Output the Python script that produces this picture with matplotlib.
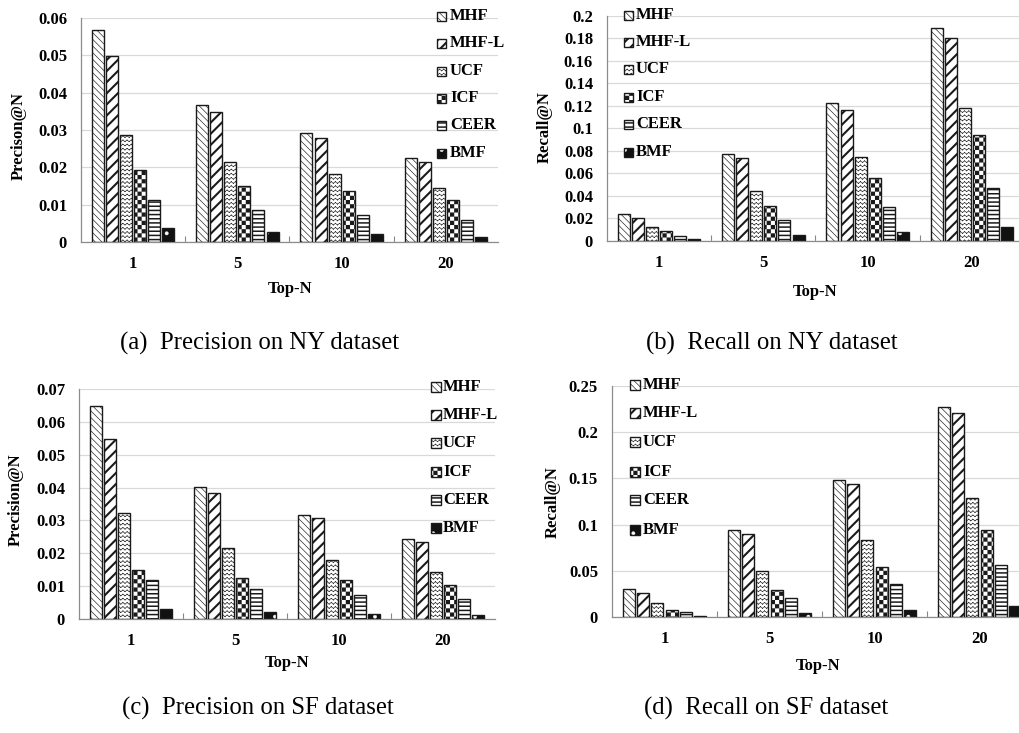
import warnings
import numpy as np
import matplotlib
matplotlib.use("Agg")
import matplotlib.pyplot as plt
import matplotlib.hatch as mhatch
from matplotlib.path import Path
from matplotlib.patches import Rectangle

# ---------------------------------------------------------------- data
methods = ["MHF", "MHF-L", "UCF", "ICF", "CEER", "BMF"]
top_n = ["1", "5", "10", "20"]

# one row per method, one column per Top-N value
precision_ny = [
    [0.0567, 0.0368, 0.0292, 0.0224],
    [0.0497, 0.0349, 0.0279, 0.0215],
    [0.0287, 0.0214, 0.0182, 0.0144],
    [0.0193, 0.0150, 0.0136, 0.0113],
    [0.0113, 0.0087, 0.0072, 0.0058],
    [0.0038, 0.0026, 0.0021, 0.0014],
]
recall_ny = [
    [0.0237, 0.0775, 0.1225, 0.1890],
    [0.0207, 0.0734, 0.1166, 0.1800],
    [0.0121, 0.0447, 0.0746, 0.1186],
    [0.0086, 0.0311, 0.0559, 0.0938],
    [0.0047, 0.0183, 0.0302, 0.0473],
    [0.0018, 0.0053, 0.0083, 0.0121],
]
precision_sf = [
    [0.0649, 0.0402, 0.0318, 0.0243],
    [0.0548, 0.0383, 0.0306, 0.0235],
    [0.0322, 0.0216, 0.0181, 0.0143],
    [0.0150, 0.0125, 0.0118, 0.0102],
    [0.0119, 0.0090, 0.0074, 0.0061],
    [0.0030, 0.0020, 0.0015, 0.0013],
]
recall_sf = [
    [0.0306, 0.0940, 0.1484, 0.2277],
    [0.0263, 0.0900, 0.1441, 0.2208],
    [0.0151, 0.0500, 0.0836, 0.1293],
    [0.0079, 0.0295, 0.0540, 0.0944],
    [0.0058, 0.0209, 0.0353, 0.0558],
    [0.0014, 0.0047, 0.0079, 0.0122],
]

y_labels = ["Precison@N", "Recall@N", "Precision@N", "Recall@N"]
captions = ["(a)  Precision on NY dataset", "(b)  Recall on NY dataset",
            "(c)  Precision on SF dataset", "(d)  Recall on SF dataset"]
x_label = "Top-N"


# ------------------------------------------------------- custom hatches
class CheckerHatch(mhatch.HatchPatternBase):
    """Filled checkerboard cells, selected with '#'."""

    def __init__(self, hatch, density):
        self.n = hatch.count("#") * density * 2
        self.num_vertices = (self.n * self.n // 2) * 5 if self.n else 0

    def set_vertices_and_codes(self, vertices, codes):
        n = self.n
        s = 1.0 / n
        sq = np.array([[0, 0], [s, 0], [s, s], [0, s], [0, 0]], float)
        cc = [Path.MOVETO, Path.LINETO, Path.LINETO, Path.LINETO, Path.CLOSEPOLY]
        k = 0
        for i in range(n):
            for j in range(n):
                if (i + j) % 2 == 0:
                    vertices[k:k + 5] = sq + [i * s, j * s]
                    codes[k:k + 5] = cc
                    k += 5


class ZigzagHatch(mhatch.HatchPatternBase):
    """Rows of small zigzag strokes, selected with 'z'."""

    def __init__(self, hatch, density):
        self.n = hatch.count("z") * density * 2
        self.num_vertices = (self.n + 1) * self.n * 4 if self.n else 0

    def set_vertices_and_codes(self, vertices, codes):
        n = self.n
        dx = 1.0 / n
        amp = 0.4 / n
        cc = [Path.MOVETO, Path.LINETO, Path.MOVETO, Path.LINETO]
        k = 0
        for r in range(n + 1):
            y = r / n
            for j in range(n):
                x0 = j * dx
                vertices[k:k + 4] = [(x0, y), (x0 + dx / 2, y + amp),
                                     (x0 + dx / 2, y + amp), (x0 + dx, y)]
                codes[k:k + 4] = cc
                k += 4


mhatch._hatch_types.extend([CheckerHatch, ZigzagHatch])
warnings.filterwarnings("ignore", message="hatch must consist")

# ---------------------------------------------------------------- style
W, H, DPI = 1020, 733, 100
plt.rcParams["font.family"] = ["Liberation Serif", "DejaVu Serif"]
plt.rcParams["font.weight"] = "bold"

EDGE = "#1a1a1a"
styles = {
    "MHF":   dict(face="white", hatch="\\" * 5, hlw=0.45, hcolor=EDGE),
    "MHF-L": dict(face="white", hatch="///", hlw=1.5, hcolor=EDGE),
    "UCF":   dict(face="white", hatch="zz", hlw=0.5, hcolor="#333333"),
    "ICF":   dict(face="white", hatch="##", hlw=0.05, hcolor=EDGE),
    "CEER":  dict(face="white", hatch="----", hlw=1.1, hcolor=EDGE),
    "BMF":   dict(face="#111111", hatch=".", hlw=0.3, hcolor="white"),
}

FS = 12          # ticks, legend, axis labels
CAP_FS = 17.8    # sub-figure captions


def px(x, y):
    return x / W, 1 - y / H


fig = plt.figure(figsize=(W / DPI, H / DPI), dpi=DPI)

panels = [
    dict(data=precision_ny, box=(81, 498, 18, 242), ymax=0.06, step=0.01,
         leg=(437, 9, 450, [16, 43, 71, 98, 125, 153]),
         ylab=(19, 136), xlab=(290, 289), cap=(260, 350)),
    dict(data=recall_ny, box=(607, 1024, 16, 241), ymax=0.2, step=0.02,
         leg=(624, 9, 636, [15, 42, 69, 97, 124, 152]),
         ylab=(545, 127), xlab=(815, 292), cap=(772, 350)),
    dict(data=precision_sf, box=(79, 495, 389, 619), ymax=0.07, step=0.01,
         leg=(431, 10, 443, [387, 415, 443, 472, 500, 528]),
         ylab=(16, 500), xlab=(287, 663), cap=(258, 715)),
    dict(data=recall_sf, box=(612, 1032, 386, 617), ymax=0.25, step=0.05,
         leg=(630, 10, 643, [385, 413, 442, 472, 500, 530]),
         ylab=(553, 502), xlab=(818, 666), cap=(766, 715)),
]

pitch, bar_w = 0.135, 0.115
x = np.arange(len(top_n))

for k, p in enumerate(panels):
    l, r, t, b = p["box"]
    ax = fig.add_axes([l / W, 1 - b / H, (r - l) / W, (b - t) / H])
    ax.set_xlim(-0.5, len(top_n) - 0.5)
    ax.set_ylim(0, p["ymax"])

    for i, name in enumerate(methods):
        vals = p["data"][i]
        offs = (i - (len(methods) - 1) / 2) * pitch
        st = styles[name]
        with plt.rc_context({"hatch.linewidth": st["hlw"]}):
            bars = ax.bar(x + offs, vals, bar_w, color=st["face"],
                          edgecolor=st["hcolor"], hatch=st["hatch"],
                          linewidth=0, zorder=2)
        for bp in bars:
            if hasattr(bp, "set_hatch_linewidth"):
                bp.set_hatch_linewidth(st["hlw"])
        ax.bar(x + offs, vals, bar_w, facecolor="none", edgecolor=EDGE,
               linewidth=1.0, zorder=3)

    nt = int(round(p["ymax"] / p["step"]))
    yt = [round(j * p["step"], 4) for j in range(nt + 1)]
    ax.set_yticks(yt)
    ax.set_yticklabels([f"{v:g}" for v in yt], fontsize=FS, fontweight="bold")
    ax.set_xticks(x)
    ax.set_xticklabels(top_n, fontsize=FS, fontweight="bold")
    ax.set_xticks(np.arange(len(top_n) - 1) + 0.5, minor=True)
    ax.tick_params(axis="both", which="major", length=0)
    ax.tick_params(axis="y", pad=10)
    ax.tick_params(axis="x", pad=10.4)
    ax.tick_params(axis="x", which="minor", direction="in", length=4,
                   width=0.8, color="#888888")
    ax.yaxis.grid(True, color="#d9d9d9", linewidth=0.9, zorder=0)
    ax.set_axisbelow(True)
    for sp in ("top", "right"):
        ax.spines[sp].set_visible(False)
    for sp in ("left", "bottom"):
        ax.spines[sp].set_color("#8c8c8c")
        ax.spines[sp].set_linewidth(0.9)
    ax.patch.set_visible(False)

    # legend drawn at fixed positions beside the bars
    sx, ss, tx, rows = p["leg"]
    for name, ry in zip(methods, rows):
        st = styles[name]
        with plt.rc_context({"hatch.linewidth": st["hlw"]}):
            sw = Rectangle(px(sx, ry + ss / 2), ss / W, ss / H,
                           transform=fig.transFigure, facecolor=st["face"],
                           edgecolor=st["hcolor"], hatch=st["hatch"], linewidth=0)
        if hasattr(sw, "set_hatch_linewidth"):
            sw.set_hatch_linewidth(st["hlw"])
        fig.add_artist(sw)
        fig.add_artist(Rectangle(px(sx, ry + ss / 2), ss / W, ss / H,
                                 transform=fig.transFigure, facecolor="none",
                                 edgecolor=EDGE, linewidth=1.0))
        fig.text(*px(tx, ry), name, fontsize=FS, fontweight="bold",
                 ha="left", va="center")

    fig.text(*px(*p["ylab"]), y_labels[k], rotation=90, fontsize=FS,
             fontweight="bold", ha="center", va="center")
    fig.text(*px(*p["xlab"]), x_label, fontsize=FS, fontweight="bold",
             ha="center", va="center")
    fig.text(*px(*p["cap"]), captions[k], fontsize=CAP_FS, fontweight="normal",
             ha="center", va="baseline")

fig.savefig("out.png", dpi=DPI)
